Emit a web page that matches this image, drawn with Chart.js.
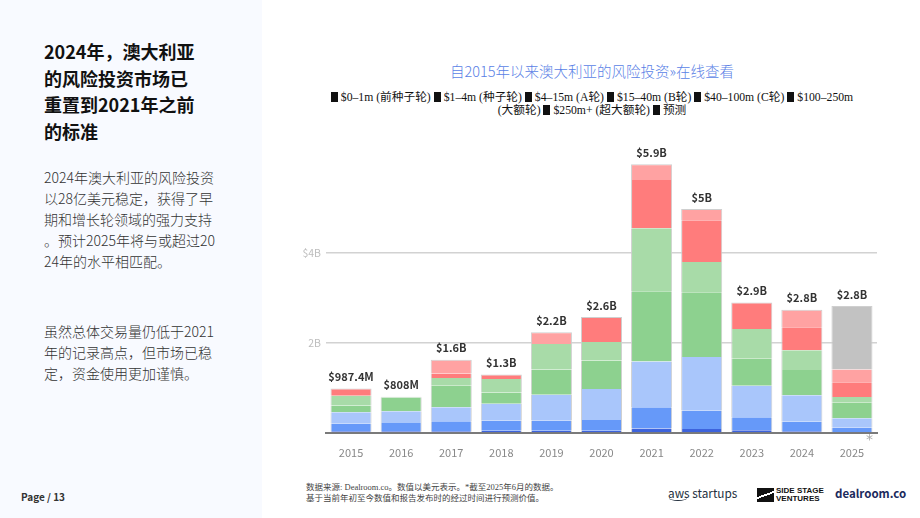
<!DOCTYPE html>
<html><head><meta charset="utf-8">
<script src="https://cdn.jsdelivr.net/npm/chart.js@4.4.1/dist/chart.umd.min.js"></script>
<style>
html,body{margin:0;padding:0;width:920px;height:518px;overflow:hidden;background:#fff;font-family:"Noto Sans CJK SC","Noto Sans",sans-serif;}
#left{position:absolute;left:0;top:0;width:262px;height:518px;background:#f8faff;}
#h1{position:absolute;left:44px;top:38px;font-size:18px;font-weight:700;line-height:26.5px;color:#111;white-space:nowrap;}
.p{position:absolute;left:44px;font-size:14px;font-weight:300;line-height:21px;color:#333;white-space:nowrap;}
#page{position:absolute;left:21px;top:489px;font-size:10px;font-weight:700;color:#333;}
#title{position:absolute;left:392px;width:400px;top:60px;text-align:center;font-size:14.5px;font-weight:300;color:#5a7fe6;white-space:nowrap;}
.leg{position:absolute;left:290px;width:604px;text-align:center;font-family:"Liberation Serif","Noto Sans CJK SC",serif;font-size:11.7px;color:#111;white-space:nowrap;}
.sq{display:inline-block;width:7px;height:10px;background:#111;vertical-align:-1px;margin-right:3px;}
#chartbox{position:absolute;left:280px;top:130px;width:610px;height:330px;}
#star{position:absolute;left:866px;top:431px;font-size:14px;color:#aaa;font-family:"DejaVu Sans",sans-serif;}
.foot{position:absolute;left:306px;font-family:"Liberation Serif","Noto Sans CJK SC",serif;font-size:8.5px;color:#444;white-space:nowrap;}
#aws{position:absolute;left:668px;top:484px;font-size:11.8px;color:#232f3e;font-family:"Noto Sans CJK SC",sans-serif;}
#smile{position:absolute;left:669px;top:495px;width:18px;height:5px;border-bottom:1.5px solid #232f3e;border-radius:0 0 50% 50%;}
#ss{position:absolute;left:776px;top:487px;font-size:8px;font-weight:700;line-height:7.5px;color:#111;font-family:"Liberation Sans Narrow","Liberation Sans",sans-serif;}
#ssmark{position:absolute;left:757px;top:488px;width:17px;height:14px;background:linear-gradient(160deg,#111 0 45%,#fff 45% 55%,#111 55% 100%);}
#deal{position:absolute;left:835px;top:485px;font-size:11.5px;font-weight:700;color:#1b2a5c;font-family:"Noto Sans CJK SC",sans-serif;}
</style></head><body>
<div id="left"></div>
<div id="h1">2024年，澳大利亚<br>的风险投资市场已<br>重置到2021年之前<br>的标准</div>
<div class="p" style="top:167px">2024年澳大利亚的风险投资<br>以28亿美元稳定，获得了早<br>期和增长轮领域的强力支持<br>。预计2025年将与或超过20<br>24年的水平相匹配。</div>
<div class="p" style="top:321px">虽然总体交易量仍低于2021<br>年的记录高点，但市场已稳<br>定，资金使用更加谨慎。</div>
<div id="page">Page / 13</div>
<div id="title">自2015年以来澳大利亚的风险投资»在线查看</div>
<div class="leg" style="top:87px"><span class="sq"></span>$0–1m (前种子轮) <span class="sq"></span>$1–4m (种子轮) <span class="sq"></span>$4–15m (A轮) <span class="sq"></span>$15–40m (B轮) <span class="sq"></span>$40–100m (C轮) <span class="sq"></span>$100–250m</div>
<div class="leg" style="top:100px">(大额轮) <span class="sq"></span>$250m+ (超大额轮) <span class="sq"></span>预测</div>
<div id="chartbox"><canvas id="c"></canvas></div>
<div id="star">*</div>
<div class="foot" style="top:480px">数据来源: Dealroom.co。数值以美元表示。*截至2025年6月的数据。</div>
<div class="foot" style="top:491px">基于当前年初至今数值和报告发布时的经过时间进行预测价值。</div>
<div id="aws">aws startups</div>
<div id="smile"></div>
<div id="ssmark"></div>
<div id="ss">SIDE STAGE<br>VENTURES</div>
<div id="deal">dealroom.co</div>
<script>
const years = ["2015","2016","2017","2018","2019","2020","2021","2022","2023","2024","2025"];
const totalLabels = ["$987.4M","$808M","$1.6B","$1.3B","$2.2B","$2.6B","$5.9B","$5B","$2.9B","$2.8B","$2.8B"];
const preSeed = [0.04,0.04,0.04,0.05,0.05,0.05,0.10,0.09,0.06,0.04,0.02];
const seed    = [0.17,0.185,0.22,0.22,0.23,0.24,0.47,0.41,0.29,0.21,0.10];
const seriesA = [0.25,0.26,0.31,0.38,0.57,0.69,1.02,1.19,0.70,0.59,0.21];
const seriesB = [0.15,0.30,0.48,0.25,0.56,0.63,1.56,1.44,0.60,0.56,0.34];
const seriesC = [0.217,0.023,0.17,0.30,0.57,0.41,1.40,0.67,0.66,0.44,0.13];
const large   = [0.16,0,0.10,0.10,0,0.56,1.07,0.93,0.59,0.51,0.33];
const mega    = [0,0,0.31,0,0.26,0,0.35,0.25,0,0.39,0.28];
const forecast= [0,0,0,0,0,0,0,0,0,0,1.41];
const yTickLabels = {2:"2B",4:"$4B"};

const series = [
  {label:"$0–1m (前种子轮)", data:preSeed, color:"#3d63dd"},
  {label:"$1–4m (种子轮)", data:seed, color:"#6699f9"},
  {label:"$4–15m (A轮)", data:seriesA, color:"#a9c6fb"},
  {label:"$15–40m (B轮)", data:seriesB, color:"#8dd18f"},
  {label:"$40–100m (C轮)", data:seriesC, color:"#a8dba8"},
  {label:"$100–250m (大额轮)", data:large, color:"#ff7c7c"},
  {label:"$250m+ (超大额轮)", data:mega, color:"#ffa2a2"},
  {label:"预测", data:forecast, color:"#c2c2c2"}
];
function topIndex(i){ let t=0; series.forEach((s,k)=>{ if(s.data[i]>0) t=k; }); return t; }

const datasets = series.map((s,k)=>({
  label:s.label, data:s.data, backgroundColor:s.color,
  borderColor:"#cfcfcf",
  borderWidth: ctx => ({left:1,right:1,bottom:0,top: topIndex(ctx.dataIndex)===k ? 1 : 0}),
  borderSkipped:false,
  barPercentage:0.82, categoryPercentage:1.0
}));

const totalsPlugin = {
  id:"totals",
  afterDatasetsDraw(chart){
    const ctx = chart.ctx;
    ctx.save();
    ctx.font = "700 11px 'Noto Sans CJK SC', 'Noto Sans', sans-serif";
    ctx.fillStyle = "#333";
    ctx.textAlign = "center";
    ctx.textBaseline = "bottom";
    years.forEach((y,i)=>{
      const k = topIndex(i);
      const el = chart.getDatasetMeta(k).data[i];
      ctx.fillText(totalLabels[i], el.x, el.y - 6);
    });
    ctx.restore();
  }
};

new Chart(document.getElementById("c"), {
  type:"bar",
  data:{labels:years, datasets},
  plugins:[totalsPlugin],
  options:{
    responsive:true, maintainAspectRatio:false, animation:false,
    layout:{padding:{top:15,right:13,left:0,bottom:0}},
    plugins:{legend:{display:false}, tooltip:{enabled:false}},
    scales:{
      x:{stacked:true,
        grid:{display:false},
        border:{color:"#7a7a7a", width:2},
        ticks:{color:"#888", font:{size:11, family:"'Noto Sans CJK SC', sans-serif"}, padding:5},
        afterFit(s){ s.height = 27; }
      },
      y:{stacked:true, min:0, max:6.4,
        border:{display:false},
        grid:{color: c => (c.tick && yTickLabels[c.tick.value]) ? "#d2d2d2" : "rgba(0,0,0,0)", lineWidth:1.5, drawTicks:false},
        ticks:{stepSize:2, color:"#bdbdbd", padding:5, font:{size:10.5, family:"'Noto Sans CJK SC', sans-serif"},
          callback: v => yTickLabels[v] || ""},
        afterFit(s){ s.width = 46; }
      }
    }
  }
});
</script>
</body></html>
